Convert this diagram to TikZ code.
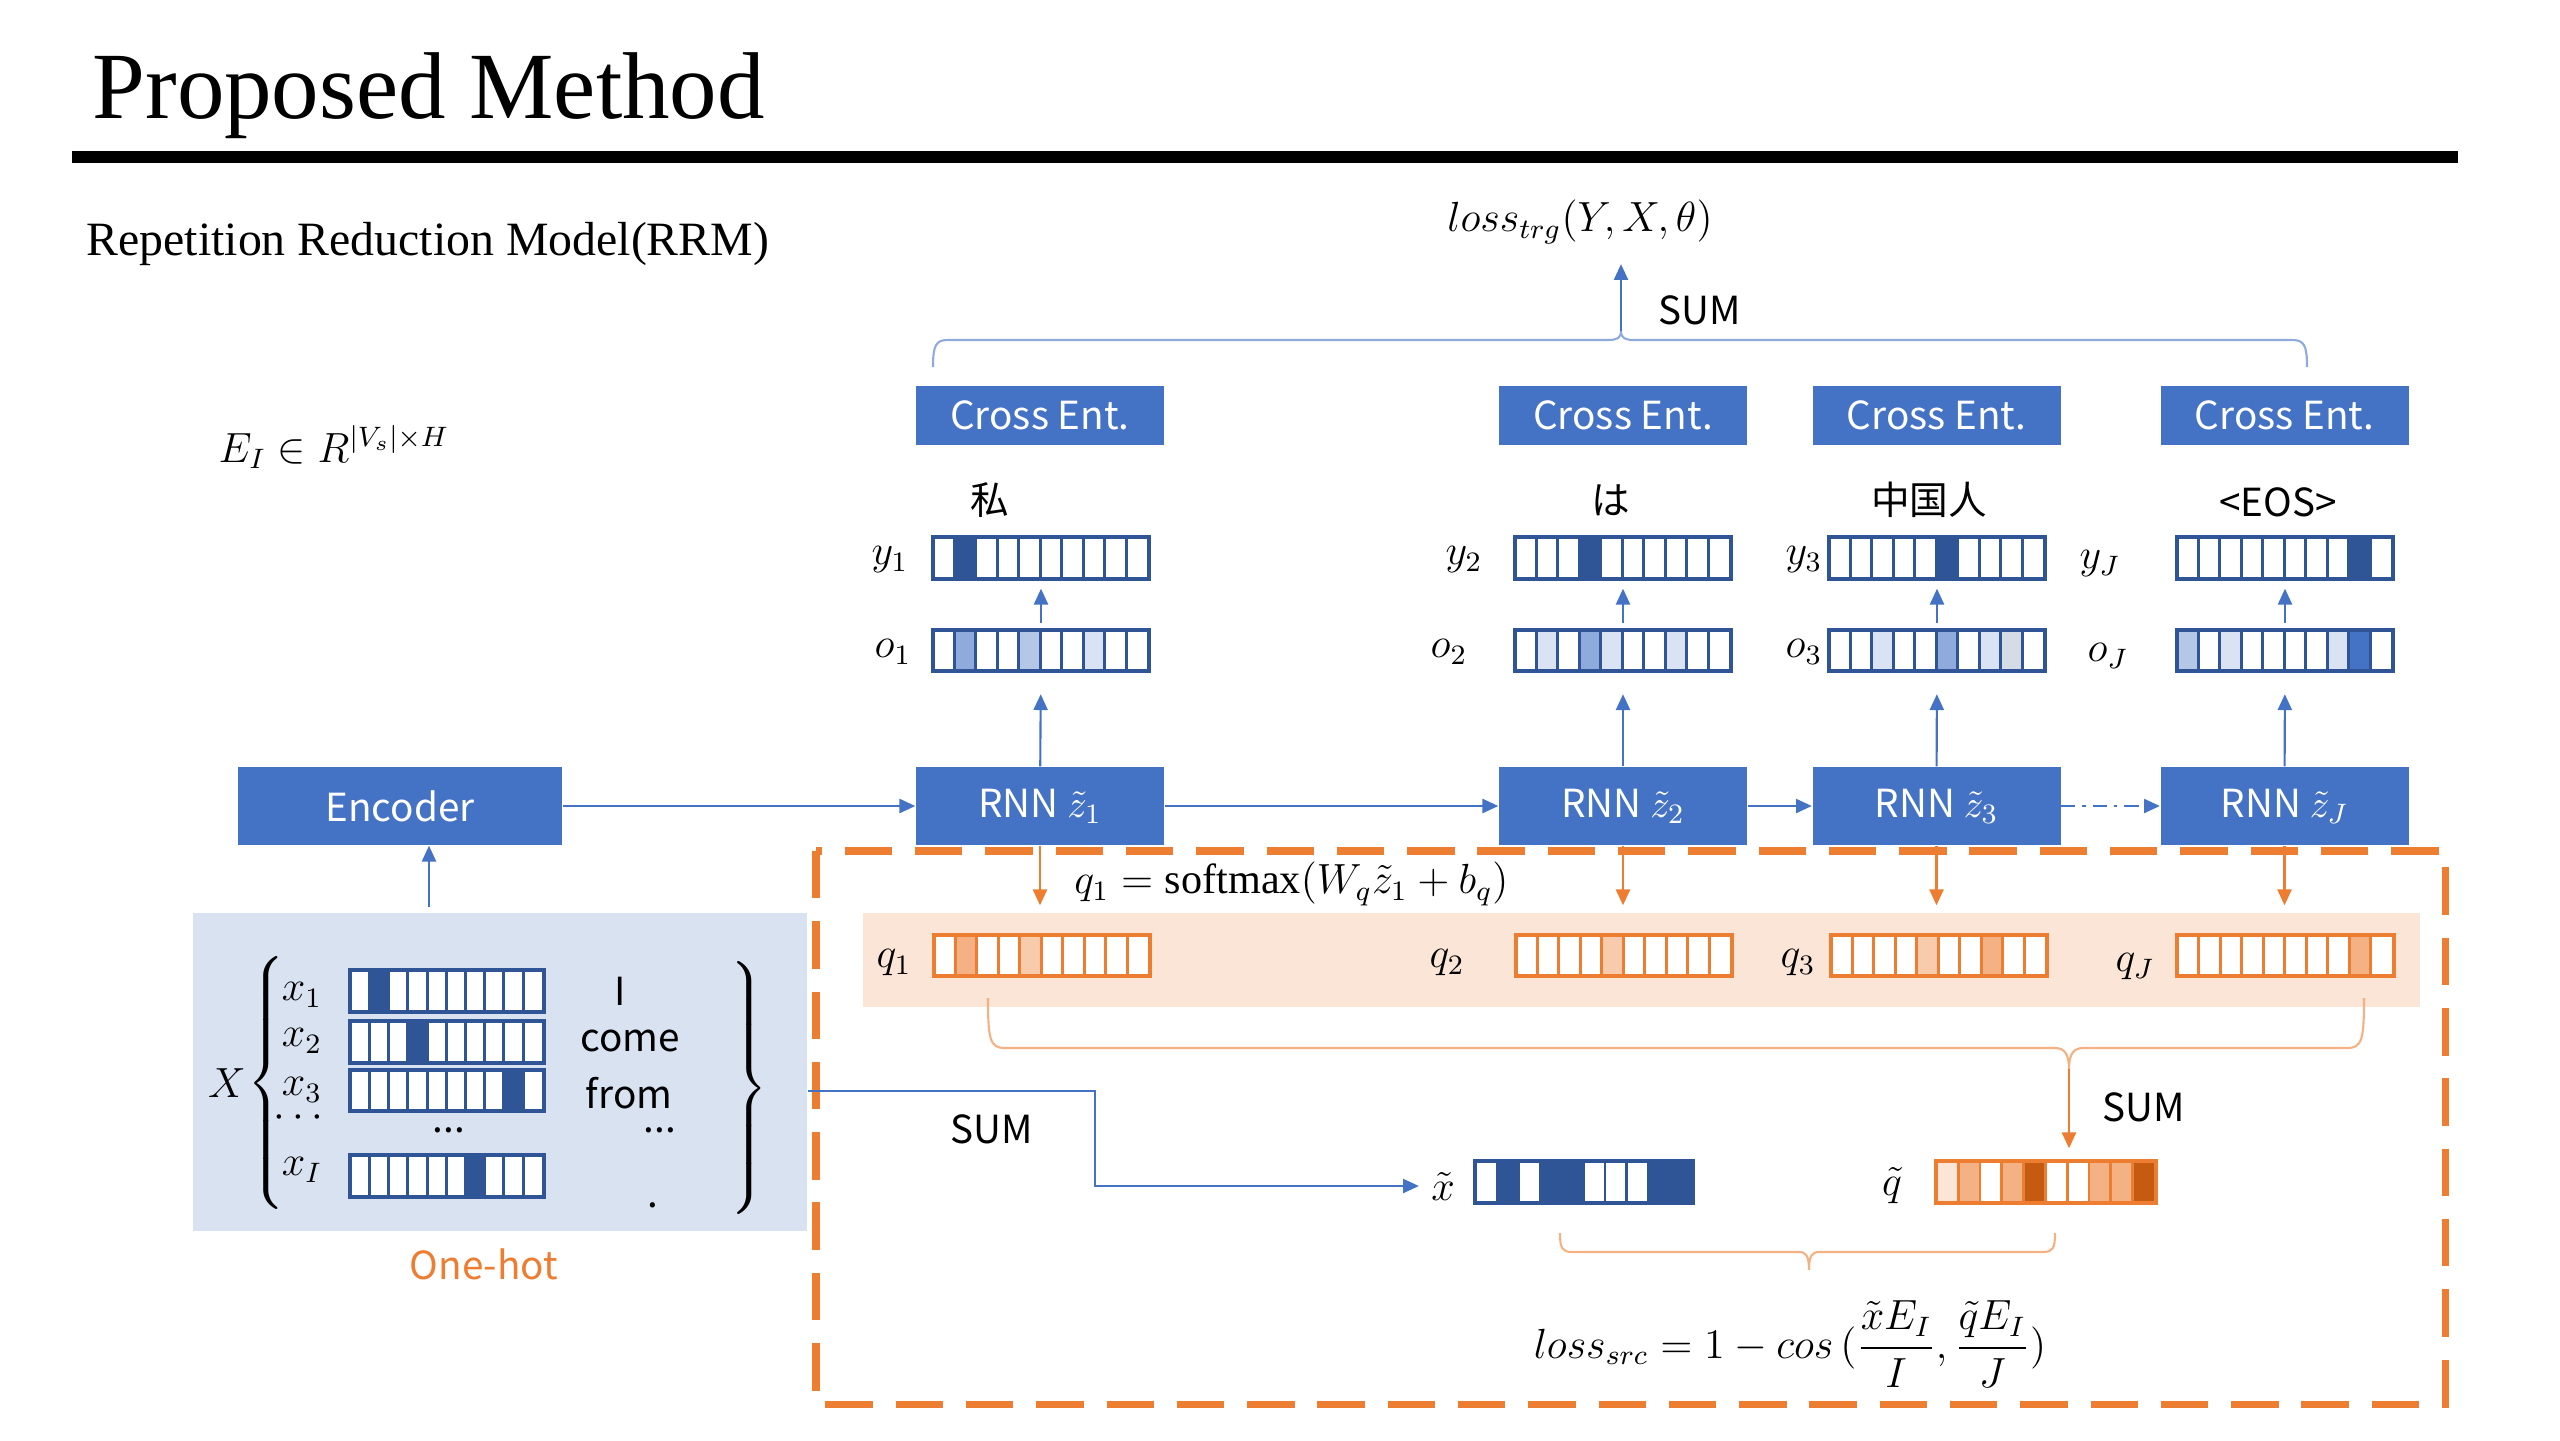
\documentclass[tikz,border=0pt]{standalone}
\usepackage{fontspec}
\usepackage{amsmath}
\setmainfont{Liberation Serif}
\newfontfamily\cjk{Noto Sans CJK SC}
\usetikzlibrary{arrows.meta,calc,positioning}

\definecolor{boxblue}{HTML}{4472C4}
\definecolor{darkblue}{HTML}{2F5597}
\definecolor{midblue}{HTML}{8FAADC}
\definecolor{lightblue}{HTML}{B4C7E7}
\definecolor{paleblue}{HTML}{DAE3F3}
\definecolor{grayblue}{HTML}{D6DCE5}
\definecolor{srcblue}{HTML}{D9E2F1}
\definecolor{orng}{HTML}{ED7D31}
\definecolor{peach}{HTML}{FBE5D6}
\definecolor{midorange}{HTML}{F4B183}
\definecolor{lightorange}{HTML}{F8CBAD}
\definecolor{darkorange}{HTML}{C55A11}

\tikzset{
  block/.style={fill=boxblue, text=white, font=\cjk\fontsize{11}{13}\selectfont, minimum width=2.48cm, inner sep=0},
  word/.style={font=\cjk\fontsize{11}{13}\selectfont},
  lab/.style={font=\fontsize{12}{14}\selectfont},
  link/.style={draw=boxblue, line width=0.6pt, -{Triangle[length=4.5pt,width=4pt]}},
  qlink/.style={draw=orng, line width=0.6pt, -{Triangle[length=4.5pt,width=4pt]}},
}

% one vector of ten cells: name, centre, width, line colour, filled cells
\newcommand{\cellrow}[5]{%
  \node[fill=white, minimum width=#3cm, minimum height=0.4cm, inner sep=0] (#1) at (#2) {};
  \foreach \i/\col in {#5} \fill[\col] ($(#1.north west)+({\i*#3/10},0)$) rectangle ++({#3/10},0.4);
  \foreach \k in {1,...,9} \draw[#4, line width=0.8pt] ($(#1.north west)+({\k*#3/10},0)$) -- ++(0,0.4);
  \draw[#4, line width=1.1pt] (#1.north west) rectangle (#1.south east);
}

\begin{document}
\begin{tikzpicture}[x=1cm, y=-1cm]
  \useasboundingbox (0,0) rectangle (25.6,14.4);

  % Title and rule
  \node[anchor=base west, font=\fontsize{27}{30}\selectfont, inner sep=0] (title) at (0.92,1.18) {Proposed Method};
  \fill (0.72,1.51) rectangle (24.58,1.63);
  \node[anchor=base west, font=\fontsize{13.6}{15}\selectfont, inner sep=0] (sub) at (0.86,2.55) {Repetition Reduction Model(RRM)};
  \node[lab] (emb) at (3.34,4.47) {$E_I \in R^{|V_s|\times H}$};

  % Draw the source sentence
  \node[fill=srcblue, minimum width=6.14cm, minimum height=3.18cm, inner sep=0] (src) at (5.00,10.72) {};
  \node[lab] (X) at (2.27,10.83) {$X$};
  \node[lab] (lbr) at (2.68,10.83) {$\left\{\rule[-1.13cm]{0pt}{2.26cm}\right.$};
  \node[lab] (rbr) at (7.47,10.90) {$\left.\rule[-1.2cm]{0pt}{2.4cm}\right\}$};
  \node[lab] (x1l) at (3.02,9.95) {$x_1$};
  \node[lab] (x2l) at (3.02,10.41) {$x_2$};
  \node[lab] (x3l) at (3.02,10.90) {$x_3$};
  \node[lab] (xdl) at (3.02,11.18) {$\cdots$};
  \node[lab] (xIl) at (3.02,11.70) {$x_I$};
  \cellrow{x1}{4.47,9.91}{1.92}{darkblue}{1/darkblue}
  \cellrow{x2}{4.47,10.42}{1.92}{darkblue}{3/darkblue}
  \cellrow{x3}{4.47,10.905}{1.92}{darkblue}{8/darkblue}
  \node[word] (xdots) at (4.49,11.30) {...};
  \cellrow{xI}{4.47,11.76}{1.92}{darkblue}{6/darkblue}
  \node[word] (w1) at (6.20,9.91) {I};
  \node[word] (w2) at (6.30,10.41) {come};
  \node[word] (w3) at (6.29,10.93) {from};
  \node[word] (w4) at (6.60,11.30) {...};
  \node[word] (w5) at (6.53,12.05) {.};
  \node[word, text=orng] (onehot) at (4.84,12.64) {One-hot};

  % Draw the encoder and the decoder
  \node[block, minimum width=3.24cm, minimum height=0.78cm] (enc) at (4.00,8.06) {Encoder};
  \node[block, minimum height=0.78cm] (rnn1) at (10.40,8.06) {RNN $\tilde{z}_1$};
  \node[block, minimum height=0.78cm] (rnn2) at (16.23,8.06) {RNN $\tilde{z}_2$};
  \node[block, minimum height=0.78cm] (rnn3) at (19.365,8.06) {RNN $\tilde{z}_3$};
  \node[block, minimum height=0.78cm] (rnnJ) at (22.845,8.06) {RNN $\tilde{z}_J$};
  \draw[link] ([xshift=-0.71cm,yshift=0.05cm]src.north) -- ([xshift=0.29cm]enc.south);
  \draw[link] (enc) -- (rnn1);
  \draw[link] (rnn1) -- (rnn2);
  \draw[link] (rnn2) -- (rnn3);
  \draw[link, dash pattern=on 4pt off 2pt on 1pt off 2pt] (rnn3) -- (rnnJ);

  % Draw the outputs
  \cellrow{o1}{10.41,6.505}{2.15}{darkblue}{1/midblue,4/lightblue,7/paleblue}
  \cellrow{o2}{16.23,6.505}{2.15}{darkblue}{1/paleblue,3/midblue,4/paleblue,7/paleblue}
  \cellrow{o3}{19.37,6.505}{2.15}{darkblue}{2/paleblue,5/midblue,7/paleblue,8/grayblue}
  \cellrow{oJ}{22.85,6.505}{2.15}{darkblue}{0/lightblue,2/paleblue,7/paleblue,8/boxblue}
  \cellrow{y1}{10.41,5.58}{2.15}{darkblue}{1/darkblue}
  \cellrow{y2}{16.23,5.58}{2.15}{darkblue}{3/darkblue}
  \cellrow{y3}{19.37,5.58}{2.15}{darkblue}{5/darkblue}
  \cellrow{yJ}{22.85,5.58}{2.15}{darkblue}{8/darkblue}
  \node[lab] (o1l) at (8.93,6.52) {$o_1$};
  \node[lab] (o2l) at (14.49,6.52) {$o_2$};
  \node[lab] (o3l) at (18.04,6.52) {$o_3$};
  \node[lab] (oJl) at (21.08,6.56) {$o_J$};
  \node[lab] (y1l) at (8.90,5.60) {$y_1$};
  \node[lab] (y2l) at (14.64,5.60) {$y_2$};
  \node[lab] (y3l) at (18.04,5.60) {$y_3$};
  \node[lab] (yJl) at (21.00,5.64) {$y_J$};
  \node[word] (t1) at (9.90,5.00) {私};
  \node[word] (t2) at (16.11,5.00) {は};
  \node[word] (t3) at (19.29,5.00) {中国人};
  \node[word] (t4) at (22.78,5.02) {<EOS>};
  \foreach \n in {1,2,3,J} {
    \draw[link, shorten >=0.23cm] (rnn\n) -- (o\n);
    \draw[link, shorten <=0.07cm, shorten >=0.1cm] (o\n) -- (y\n);
  }

  % Cross entropy and target loss
  \node[block, minimum height=0.59cm] (ce1) at (10.40,4.155) {Cross Ent.};
  \node[block, minimum height=0.59cm] (ce2) at (16.23,4.155) {Cross Ent.};
  \node[block, minimum height=0.59cm] (ce3) at (19.365,4.155) {Cross Ent.};
  \node[block, minimum height=0.59cm] (ceJ) at (22.845,4.155) {Cross Ent.};
  \draw[midblue, line width=0.6pt] (9.33,3.67) .. controls (9.33,3.45) and (9.36,3.40) .. (9.48,3.40) -- (16.08,3.40) .. controls (16.17,3.40) and (16.21,3.38) .. (16.21,3.31) .. controls (16.21,3.38) and (16.25,3.40) .. (16.34,3.40) -- (22.92,3.40) .. controls (23.04,3.40) and (23.07,3.45) .. (23.07,3.67);
  \coordinate (toptip) at (16.21,3.31);
  \node[lab] (losstrg) at (15.80,2.22) {$loss_{trg}(Y,X,\theta)$};
  \node[word] (sum1) at (17.00,3.10) {SUM};
  \draw[link, shorten >=0.08cm] (toptip) -- (toptip |- losstrg.south);

  % Draw the repetition part
  \draw[orng, line width=2pt, dash pattern=on 13.5pt off 6.5pt] (8.16,8.51) rectangle (24.45,14.04);
  \node[fill=peach, minimum width=15.57cm, minimum height=0.94cm, inner sep=0] (band) at (16.415,9.60) {};
  \cellrow{q1}{10.42,9.555}{2.15}{orng}{1/midorange,4/lightorange}
  \cellrow{q2}{16.24,9.555}{2.15}{orng}{4/lightorange}
  \cellrow{q3}{19.39,9.555}{2.15}{orng}{4/lightorange,7/midorange}
  \cellrow{qJ}{22.855,9.555}{2.15}{orng}{8/midorange}
  \node[lab] (q1l) at (8.94,9.63) {$q_1$};
  \node[lab] (q2l) at (14.47,9.63) {$q_2$};
  \node[lab] (q3l) at (17.98,9.63) {$q_3$};
  \node[lab] (qJl) at (21.35,9.67) {$q_J$};
  \node[lab, anchor=west] (soft) at (10.62,8.84) {$q_1 = \mathrm{softmax}(W_q\tilde{z}_1 + b_q)$};
  \foreach \n in {1,2,3,J}
    \draw[qlink, shorten >=0.07cm] (rnn\n.south) -- (rnn\n.south |- band.north);

  % sums of x and q
  \cellrow{xt}{15.84,11.82}{2.16}{darkblue}{1/darkblue,3/darkblue,4/darkblue,8/darkblue,9/darkblue}
  \cellrow{qt}{20.46,11.82}{2.18}{orng}{0/peach,1/midorange,3/midorange,4/darkorange,7/midorange,8/midorange,9/darkorange}
  \node[lab] (xtl) at (14.43,11.86) {$\tilde{x}$};
  \node[lab] (qtl) at (18.92,11.86) {$\tilde{q}$};
  \draw[link] ([yshift=-0.19cm]src.east) -- +(2.87,0) |- (xtl.west);
  \node[word] (sum2) at (9.92,11.29) {SUM};
  \draw[midorange, line width=0.6pt] (9.88,9.98) .. controls (9.88,10.40) and (9.90,10.48) .. (10.05,10.48) -- (20.55,10.48) .. controls (20.65,10.48) and (20.69,10.55) .. (20.69,10.69) .. controls (20.69,10.55) and (20.73,10.48) .. (20.83,10.48) -- (23.47,10.48) .. controls (23.62,10.48) and (23.64,10.40) .. (23.64,9.98);
  \coordinate (qtip) at (20.69,10.69);
  \draw[qlink, shorten >=0.13cm] (qtip) -- (qtip |- qt.north);
  \node[word] (sum3) at (21.44,11.07) {SUM};

  % source loss
  \draw[midorange, line width=0.6pt] (15.60,12.33) .. controls (15.60,12.48) and (15.62,12.52) .. (15.72,12.52) -- (17.99,12.52) .. controls (18.06,12.52) and (18.09,12.56) .. (18.09,12.70) .. controls (18.09,12.56) and (18.12,12.52) .. (18.19,12.52) -- (20.43,12.52) .. controls (20.53,12.52) and (20.55,12.48) .. (20.55,12.33);
  \node[lab] (losssrc) at (17.90,13.44) {$loss_{src} = 1 - cos\,(\dfrac{\tilde{x}E_I}{I},\dfrac{\tilde{q}E_I}{J})$};
\end{tikzpicture}
\end{document}
